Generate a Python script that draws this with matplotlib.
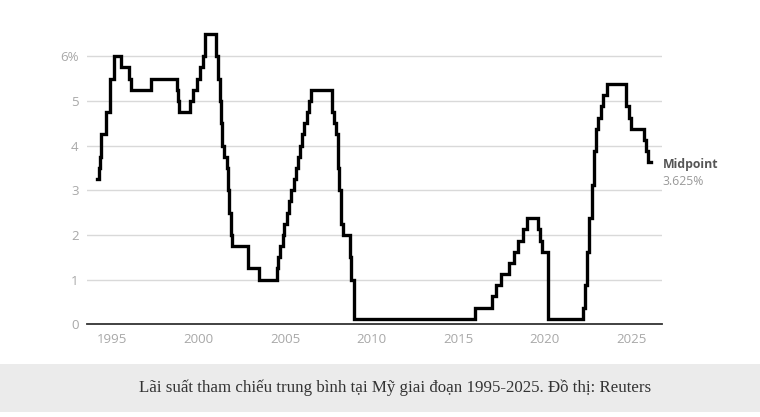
import matplotlib
matplotlib.use("Agg")
import matplotlib.pyplot as plt
import pandas as pd
from matplotlib.patches import Rectangle

# fed funds target midpoint, date of each change
change_dates = [
    '1994-02-04', '1994-03-22', '1994-04-18', '1994-05-17', '1994-08-16', '1994-11-15',
    '1995-02-01', '1995-07-06', '1995-12-19', '1996-01-31', '1997-03-25', '1998-09-29',
    '1998-10-15', '1998-11-17', '1999-06-30', '1999-08-24', '1999-11-16', '2000-02-02',
    '2000-03-21', '2000-05-16', '2001-01-03', '2001-01-31', '2001-03-20', '2001-04-18',
    '2001-05-15', '2001-06-27', '2001-08-21', '2001-09-17', '2001-10-02', '2001-11-06',
    '2001-12-11', '2002-11-06', '2003-06-25', '2004-06-30', '2004-08-10', '2004-09-21',
    '2004-11-10', '2004-12-14', '2005-02-02', '2005-03-22', '2005-05-03', '2005-06-30',
    '2005-08-09', '2005-09-20', '2005-11-01', '2005-12-13', '2006-01-31', '2006-03-28',
    '2006-05-10', '2006-06-29', '2007-09-18', '2007-10-31', '2007-12-11', '2008-01-22',
    '2008-01-30', '2008-03-18', '2008-04-30', '2008-10-08', '2008-10-29', '2008-12-16',
    '2015-12-16', '2016-12-14', '2017-03-15', '2017-06-14', '2017-12-13', '2018-03-21',
    '2018-06-13', '2018-09-26', '2018-12-19', '2019-07-31', '2019-09-18', '2019-10-30',
    '2020-03-03', '2020-03-15', '2022-03-16', '2022-05-04', '2022-06-15', '2022-07-27',
    '2022-09-21', '2022-11-02', '2022-12-14', '2023-02-01', '2023-03-22', '2023-05-03',
    '2023-07-26', '2024-09-18', '2024-11-07', '2024-12-18', '2025-09-17', '2025-10-29',
    '2025-12-10',
]
rates = [
    3.25, 3.5, 3.75, 4.25, 4.75, 5.5,
    6.0, 5.75, 5.5, 5.25, 5.5, 5.25,
    5.0, 4.75, 5.0, 5.25, 5.5, 5.75,
    6.0, 6.5, 6.0, 5.5, 5.0, 4.5,
    4.0, 3.75, 3.5, 3.0, 2.5, 2.0,
    1.75, 1.25, 1.0, 1.25, 1.5, 1.75,
    2.0, 2.25, 2.5, 2.75, 3.0, 3.25,
    3.5, 3.75, 4.0, 4.25, 4.5, 4.75,
    5.0, 5.25, 4.75, 4.5, 4.25, 3.5,
    3.0, 2.25, 2.0, 1.5, 1.0, 0.125,
    0.375, 0.625, 0.875, 1.125, 1.375, 1.625,
    1.875, 2.125, 2.375, 2.125, 1.875, 1.625,
    1.125, 0.125, 0.375, 0.875, 1.625, 2.375,
    3.125, 3.875, 4.375, 4.625, 4.875, 5.125,
    5.375, 4.875, 4.625, 4.375, 4.125, 3.875,
    3.625,
]
end_date = '2026-03-01'
y_ticks = [0, 1, 2, 3, 4, 5, 6]
y_labels = ['0', '1', '2', '3', '4', '5', '6%']
x_ticks = [1995, 2000, 2005, 2010, 2015, 2020, 2025]
caption = 'Lãi suất tham chiếu trung bình tại Mỹ giai đoạn 1995-2025. Đồ thị: Reuters'


def to_year(s):
    d = pd.Timestamp(s)
    return d.year + (d.dayofyear - 1) / (366 if d.is_leap_year else 365)


xs = [to_year(d) for d in change_dates] + [to_year(end_date)]
ys = rates + [rates[-1]]

fig = plt.figure(figsize=(7.6, 4.17), dpi=100)
fig.patch.set_facecolor('white')

# caption band
fig.patches.append(Rectangle((0, 5 / 417), 1, 48 / 417, transform=fig.transFigure,
                             facecolor='#ebebeb', edgecolor='none', zorder=0))
fig.text(395 / 760, 29 / 417, caption, ha='center', va='center', fontsize=12.2,
         family='Liberation Serif', color='#333333')

ax = fig.add_axes([87 / 760, (417 - 324.3) / 417, 575 / 760, 294.9 / 417])
ax.step(xs, ys, where='post', color='black', lw=2.4, solid_joinstyle='miter', zorder=3)

ax.set_xlim(1993.54, 2026.77)
ax.set_ylim(0, 6.6)
ax.set_yticks(y_ticks, y_labels)
ax.set_xticks(x_ticks, [str(t) for t in x_ticks])
ax.grid(axis='y', color='#d9d9d9', lw=1)
ax.set_axisbelow(True)
for s in ['top', 'right', 'left']:
    ax.spines[s].set_visible(False)
ax.spines['bottom'].set_color('#333333')
ax.spines['bottom'].set_linewidth(1.3)
ax.tick_params(length=0, labelsize=9.5, labelcolor='#a8a8a8', pad=6)
for lab in ax.get_xticklabels() + ax.get_yticklabels():
    lab.set_family('Open Sans')

ax.annotate('Midpoint', xy=(1.0, 3.625), xycoords=('axes fraction', 'data'),
            xytext=(0.5, -1.5), textcoords='offset points', ha='left', va='center',
            fontsize=8.8, fontweight='bold', color='#555555', family='Open Sans',
            annotation_clip=False)
ax.annotate('3.625%', xy=(1.0, 3.625), xycoords=('axes fraction', 'data'),
            xytext=(0.5, -13.5), textcoords='offset points', ha='left', va='center',
            fontsize=8.8, color='#999999', family='Open Sans', annotation_clip=False)

fig.savefig('out.png', dpi=100)
